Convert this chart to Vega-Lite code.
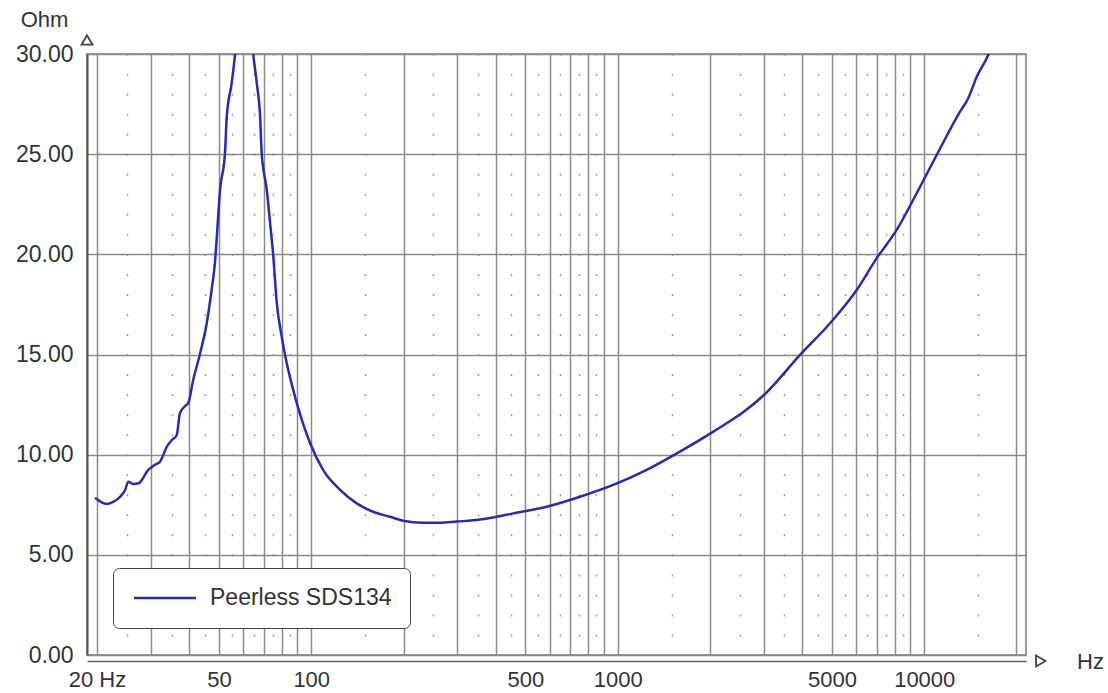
{
  "$schema": "https://vega.github.io/schema/vega-lite/v6.json",
  "width": 939,
  "height": 601,
  "autosize": {"type": "none"},
  "padding": {"left": 87, "top": 54, "right": 82, "bottom": 38},
  "background": "white",
  "config": {"view": {"stroke": "#7a7a7a", "strokeWidth": 1.5}, "font": "Liberation Sans"},
  "datasets": {
    "curve": [
      {"f": 19.7, "z": 7.85}, {"f": 21.5, "z": 7.54}, {"f": 22.6, "z": 7.64}, {"f": 23.8, "z": 7.9},
      {"f": 24.7, "z": 8.24}, {"f": 25.3, "z": 8.65}, {"f": 26.2, "z": 8.54}, {"f": 27.3, "z": 8.57},
      {"f": 29.4, "z": 9.24}, {"f": 30.9, "z": 9.49}, {"f": 32.1, "z": 9.65}, {"f": 33.8, "z": 10.4},
      {"f": 35.1, "z": 10.73}, {"f": 36.4, "z": 10.98}, {"f": 37.3, "z": 12.08}, {"f": 38.8, "z": 12.43},
      {"f": 39.7, "z": 12.58}, {"f": 41.2, "z": 13.73}, {"f": 43.4, "z": 15.06}, {"f": 45.6, "z": 16.56},
      {"f": 47.3, "z": 18.22}, {"f": 48.5, "z": 19.57}, {"f": 49.2, "z": 20.88}, {"f": 50.4, "z": 23.22},
      {"f": 52.3, "z": 25.05}, {"f": 53.0, "z": 26.87}, {"f": 55.0, "z": 28.54}, {"f": 56.4, "z": 29.96},
      {"f": 60.3, "z": 36.0},
      {"f": 64.7, "z": 29.96}, {"f": 66.4, "z": 28.56}, {"f": 68.1, "z": 26.87}, {"f": 68.9, "z": 25.06},
      {"f": 71.6, "z": 23.22}, {"f": 73.4, "z": 21.57}, {"f": 75.2, "z": 19.89}, {"f": 77.2, "z": 17.56},
      {"f": 80.1, "z": 15.89}, {"f": 83.2, "z": 14.56}, {"f": 88.5, "z": 12.9}, {"f": 90.8, "z": 12.3},
      {"f": 99.1, "z": 10.58}, {"f": 109.3, "z": 9.24}, {"f": 124.2, "z": 8.24}, {"f": 140.7, "z": 7.57},
      {"f": 159, "z": 7.15}, {"f": 180.7, "z": 6.9}, {"f": 199.3, "z": 6.7}, {"f": 231.5, "z": 6.6},
      {"f": 263, "z": 6.6}, {"f": 298, "z": 6.66}, {"f": 355, "z": 6.76}, {"f": 383, "z": 6.84},
      {"f": 456, "z": 7.07}, {"f": 586, "z": 7.4}, {"f": 753, "z": 7.9}, {"f": 967, "z": 8.49},
      {"f": 1243, "z": 9.24}, {"f": 1596, "z": 10.15}, {"f": 2051, "z": 11.15}, {"f": 2635, "z": 12.25},
      {"f": 3000, "z": 12.98}, {"f": 3934, "z": 14.98}, {"f": 4927, "z": 16.56}, {"f": 6021, "z": 18.22},
      {"f": 6998, "z": 19.81}, {"f": 8131, "z": 21.22}, {"f": 9448, "z": 23.05}, {"f": 10980, "z": 24.96},
      {"f": 13085, "z": 27.12}, {"f": 13920, "z": 27.79}, {"f": 14835, "z": 28.87}, {"f": 16185, "z": 29.96},
      {"f": 17660, "z": 31.7}
    ],
    "arrows": [
      {"f": 18.55, "z": 30.7, "dir": "up"},
      {"f": 24000, "z": -0.3, "dir": "right"}
    ]
  },
  "resolve": {"axis": {"x": "independent"}},
  "layer": [
    {
      "data": {"name": "curve"},
      "mark": {"type": "line", "clip": true, "strokeWidth": 2.5, "interpolate": "monotone"},
      "encoding": {
        "x": {
          "field": "f", "type": "quantitative",
          "scale": {"type": "log", "domain": [18.55, 21480], "nice": false},
          "axis": {
            "orient": "bottom",
            "values": [20, 30, 40, 50, 60, 70, 80, 90, 100, 200, 300, 400, 500, 600, 700, 800, 900, 1000, 2000, 3000, 4000, 5000, 6000, 7000, 8000, 9000, 10000, 20000],
            "labelExpr": "datum.value == 20 ? '20 Hz' : (indexof([50, 100, 500, 1000, 5000, 10000], datum.value) >= 0 ? format(datum.value, 'd') : '')",
            "labelOverlap": false, "labelFlush": false, "labelFontSize": 22, "labelColor": "#333",
            "labelPadding": 8, "ticks": false, "tickSize": 0,
            "grid": true, "gridColor": "#8a8a8a", "gridWidth": 1.5,
            "domainColor": "#666", "domainWidth": 1.5, "offset": 6,
            "title": "Hz", "titleX": 1003, "titleY": 0, "titleAlign": "center", "titleBaseline": "middle",
            "titleFontSize": 22, "titleFontWeight": "normal", "titleColor": "#333"
          }
        },
        "y": {
          "field": "z", "type": "quantitative",
          "scale": {"domain": [0, 30], "nice": false},
          "axis": {
            "values": [0, 5, 10, 15, 20, 25, 30], "format": ".2f",
            "labelFontSize": 23, "labelColor": "#333", "labelPadding": 14, "ticks": false,
            "grid": true, "gridColor": "#8a8a8a", "gridWidth": 1.5,
            "domainColor": "#555", "domainWidth": 2,
            "title": "Ohm", "titleAngle": 0, "titleX": -43, "titleY": -35, "titleAlign": "center",
            "titleBaseline": "middle", "titleFontSize": 22, "titleFontWeight": "normal", "titleColor": "#333"
          }
        },
        "color": {
          "datum": "Peerless SDS134",
          "scale": {"range": ["#2a2ab0"]},
          "legend": {
            "orient": "none", "legendX": 26, "legendY": 514, "title": null,
            "symbolType": "M-3,0H3", "symbolSize": 427, "symbolStrokeWidth": 2.5, "symbolOffset": 22,
            "labelFontSize": 23, "labelColor": "#333", "labelOffset": 33, "labelLimit": 400,
            "padding": 18, "strokeColor": "#444", "cornerRadius": 6, "fillColor": "white"
          }
        }
      }
    },
    {
      "data": {"name": "arrows"},
      "mark": {"type": "point", "filled": true, "fill": "white", "stroke": "#444", "strokeWidth": 1.8, "size": 120, "opacity": 1},
      "encoding": {
        "x": {
          "field": "f", "type": "quantitative",
          "axis": {
            "orient": "top",
            "values": [25, 35, 45, 55, 65, 75, 85, 150, 250, 350, 450, 550, 650, 750, 850, 1500, 2500, 3500, 4500, 5500, 6500, 7500, 8500, 15000],
            "labels": false, "ticks": false, "domain": false,
            "grid": true, "gridColor": "#9a9a9a", "gridWidth": 1.5, "gridDash": [2, 18.03], "gridDashOffset": 1,
            "title": null
          }
        },
        "y": {"field": "z", "type": "quantitative"},
        "shape": {
          "field": "dir", "type": "nominal",
          "scale": {"domain": ["up", "right"], "range": ["triangle-up", "triangle-right"]},
          "legend": null
        }
      }
    }
  ]
}
